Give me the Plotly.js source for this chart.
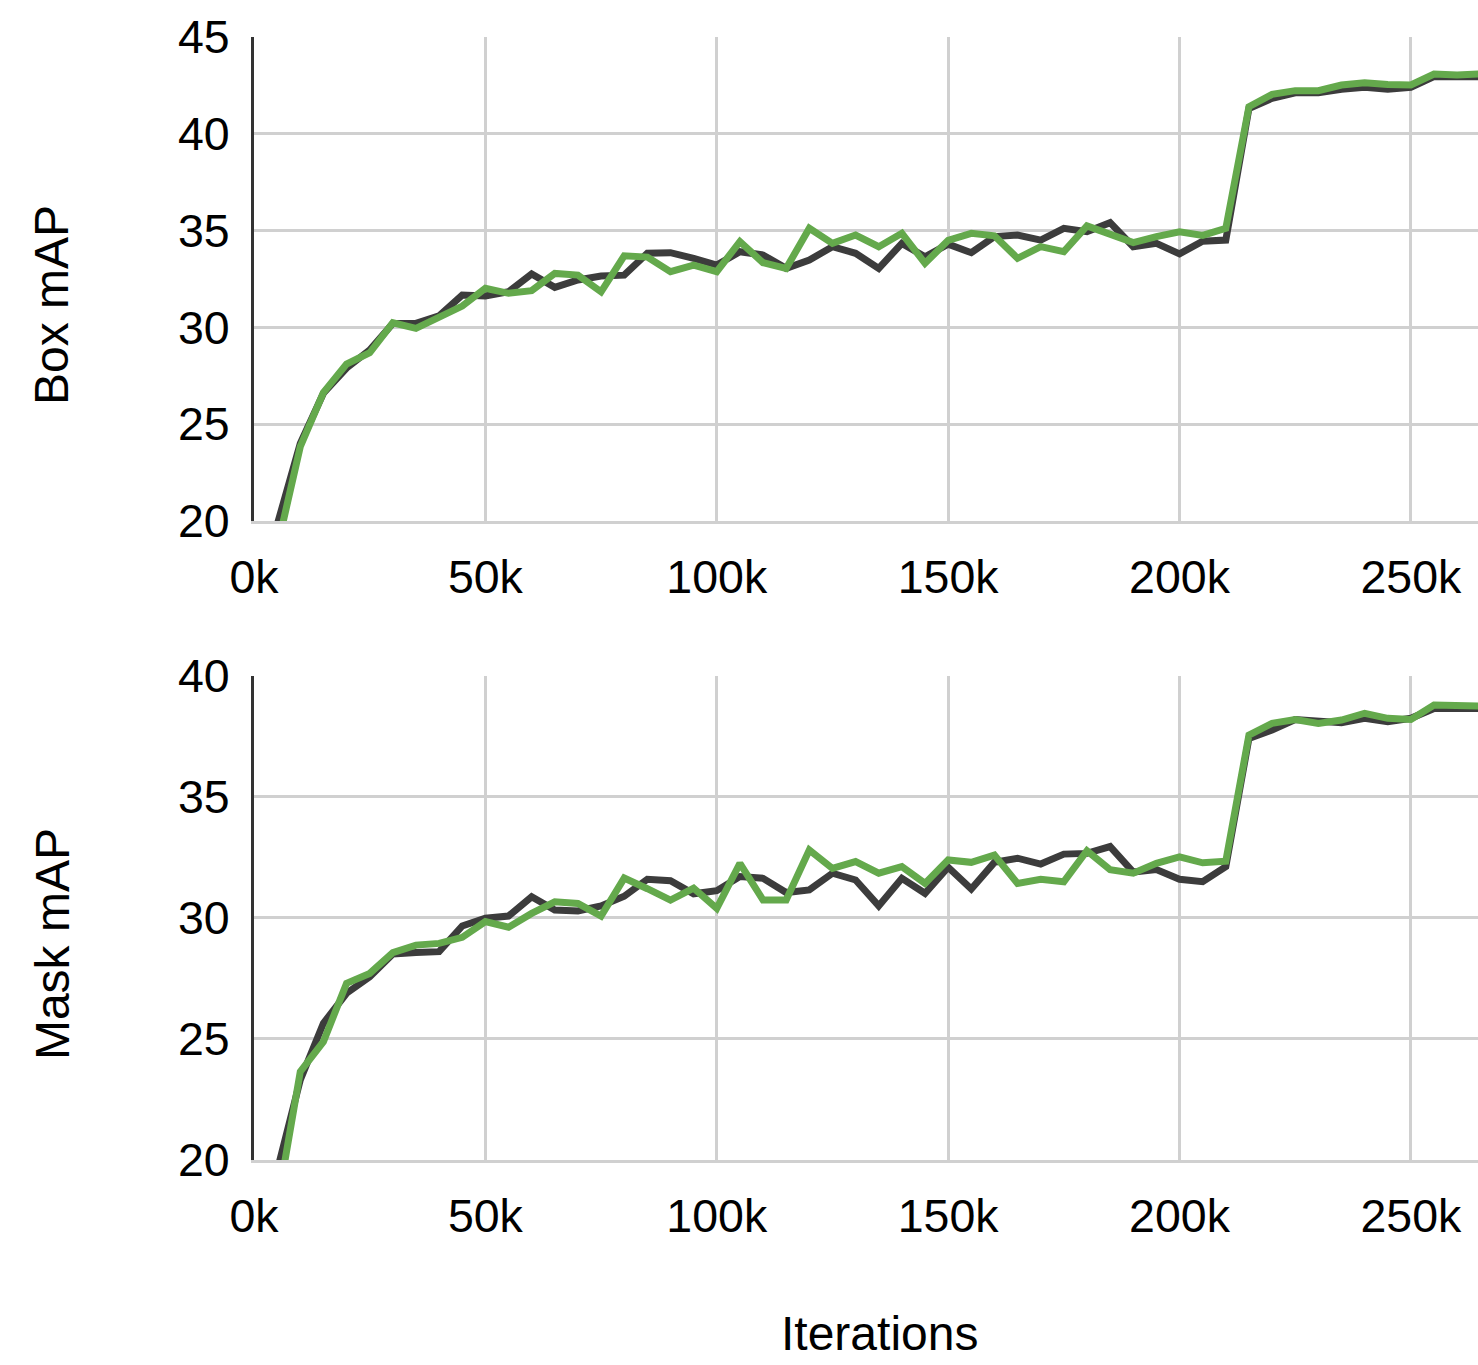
<!DOCTYPE html>
<html>
<head>
<meta charset="utf-8">
<script src="https://cdn.plot.ly/plotly-3.0.1.min.js"></script>
<style>html,body{margin:0;padding:0;background:#fff;}#chart{width:1478px;height:1365px;}</style>
</head>
<body>
<div id="chart"></div>
<script>
// iterations in thousands
const iterK = [5,10,15,20,25,30,35,40,45,50,55,60,65,70,75,80,85,90,95,100,105,110,115,120,125,130,135,140,145,150,155,160,165,170,175,180,185,190,195,200,205,210,215,220,225,230,235,240,245,250,255,260,265];

const boxBlack = [19.8,24.0,26.6,27.9,28.83,30.2,30.21,30.6,31.67,31.62,31.84,32.76,32.07,32.45,32.65,32.7,33.83,33.86,33.57,33.22,33.91,33.74,33.05,33.48,34.17,33.83,33.05,34.34,33.65,34.3,33.86,34.69,34.77,34.51,35.12,34.94,35.41,34.17,34.34,33.8,34.45,34.51,41.31,41.83,42.12,42.12,42.3,42.4,42.3,42.4,42.95,42.92,42.95];
const boxGreen = [18.6,23.84,26.63,28.11,28.69,30.24,29.95,30.52,31.1,32.02,31.76,31.9,32.79,32.7,31.84,33.7,33.63,32.88,33.22,32.88,34.43,33.34,33.05,35.12,34.34,34.77,34.17,34.86,33.31,34.5,34.86,34.73,33.57,34.17,33.91,35.24,34.77,34.38,34.69,34.94,34.75,35.12,41.4,42.04,42.23,42.23,42.52,42.64,42.55,42.52,43.09,43.04,43.1];

const maskBlack = [19.55,23.31,25.65,26.89,27.57,28.51,28.57,28.61,29.67,29.99,30.08,30.88,30.33,30.29,30.5,30.9,31.6,31.54,31.0,31.13,31.71,31.64,31.05,31.16,31.85,31.57,30.5,31.64,31.02,32.1,31.2,32.3,32.47,32.23,32.64,32.67,32.95,31.9,32.0,31.6,31.5,32.12,37.42,37.77,38.2,38.11,38.07,38.25,38.11,38.25,38.66,38.66,38.66];
const maskGreen = [18.1,23.65,24.89,27.3,27.71,28.57,28.88,28.95,29.2,29.85,29.62,30.19,30.67,30.6,30.08,31.65,31.21,30.74,31.23,30.4,32.26,30.74,30.74,32.81,32.05,32.33,31.85,32.12,31.43,32.4,32.3,32.6,31.43,31.6,31.5,32.78,32.0,31.85,32.26,32.53,32.28,32.35,37.56,38.04,38.2,38.04,38.18,38.46,38.25,38.2,38.8,38.76,38.76];

const xTickVals = [0,50,100,150,200,250];
const xTickText = ['0k','50k','100k','150k','200k','250k'];
const boxTicks = [20,25,30,35,40,45];
const maskTicks = [20,25,30,35,40];

const BLACK = '#3c3c3c';
const GREEN = '#64a94c';
const LW = 7;

const traces = [
  {x: iterK, y: boxBlack, xaxis:'x', yaxis:'y', mode:'lines', line:{color:BLACK, width:LW}, hoverinfo:'skip'},
  {x: iterK, y: boxGreen, xaxis:'x', yaxis:'y', mode:'lines', line:{color:GREEN, width:LW}, hoverinfo:'skip'},
  {x: iterK, y: maskBlack, xaxis:'x2', yaxis:'y2', mode:'lines', line:{color:BLACK, width:LW}, hoverinfo:'skip'},
  {x: iterK, y: maskGreen, xaxis:'x2', yaxis:'y2', mode:'lines', line:{color:GREEN, width:LW}, hoverinfo:'skip'}
];

const FONT = 'Liberation Sans, Arial, sans-serif';
const tickFont = {family:FONT, size:46.5, color:'#000'};
const titleFont = {family:FONT, size:48, color:'#000'};
const xCommon = {
  range:[0,264.5], tickvals:xTickVals, ticktext:xTickText,
  showgrid:true, gridcolor:'#d0d0d0', gridwidth:3,
  showline:true, linecolor:'#d0d0d0', linewidth:3,
  zeroline:false, ticks:'', tickfont:tickFont, ticklabelstandoff:13
};
const yCommon = {
  showgrid:true, gridcolor:'#d0d0d0', gridwidth:3,
  showline:true, linecolor:'#333', linewidth:3,
  zeroline:false, ticks:'', tickfont:tickFont, ticklabelstandoff:12
};

const layout = {
  width:1478, height:1365,
  margin:{l:254, r:0, t:37, b:205},
  paper_bgcolor:'#fff', plot_bgcolor:'#fff',
  showlegend:false,
  xaxis: Object.assign({}, xCommon, {anchor:'y'}),
  yaxis: Object.assign({}, yCommon, {domain:[0.569,1], range:[20,45], tickvals:boxTicks, anchor:'x'}),
  xaxis2: Object.assign({}, xCommon, {anchor:'y2'}),
  yaxis2: Object.assign({}, yCommon, {domain:[0,0.431], range:[20,40], tickvals:maskTicks, anchor:'x2'}),
  annotations:[
    {text:'Box mAP', xref:'paper', yref:'paper', x:-0.165, y:0.7614, textangle:-90, showarrow:false, xanchor:'center', yanchor:'middle', font:titleFont},
    {text:'Mask mAP', xref:'paper', yref:'paper', x:-0.165, y:0.1923, textangle:-90, showarrow:false, xanchor:'center', yanchor:'middle', font:titleFont},
    {text:'Iterations', xref:'paper', yref:'paper', x:0.5114, y:-0.1549, showarrow:false, xanchor:'center', yanchor:'middle', font:titleFont}
  ]
};

Plotly.newPlot('chart', traces, layout, {displayModeBar:false, staticPlot:true});
</script>
</body>
</html>
